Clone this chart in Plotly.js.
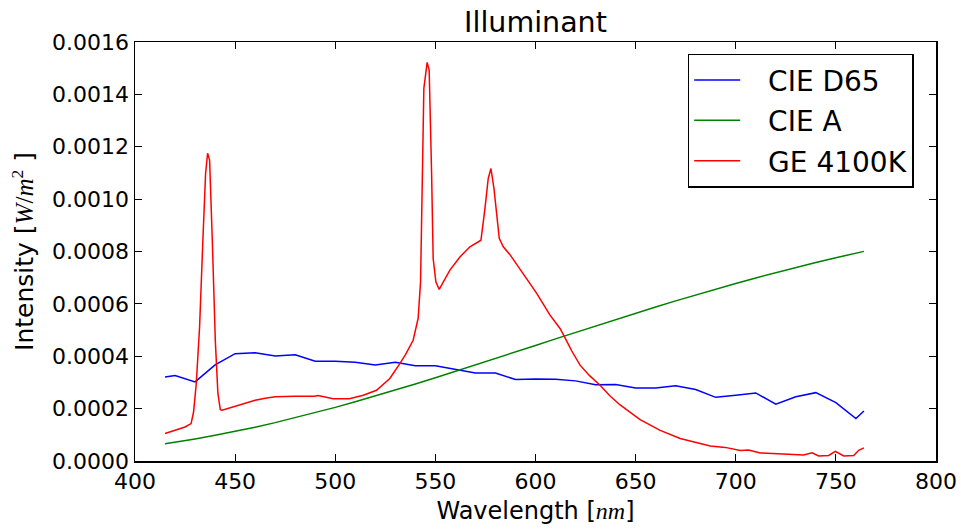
<!DOCTYPE html>
<html>
<head>
<meta charset="utf-8">
<script src="https://cdn.plot.ly/plotly-3.0.1.min.js"></script>
<style>html,body{margin:0;padding:0;background:#fff;}#chart{width:961px;height:529px;}</style>
</head>
<body>
<div id="chart"></div>
<script>
// Wavelength grid for the CIE illuminants (nm)
const cieWavelength = [415,420,430,440,450,460,470,480,490,500,510,520,530,540,550,560,570,580,590,600,610,620,630,640,650,660,670,680,690,700,710,720,730,740,750,760,764];
// CIE D65 intensity (W/m^2)
const d65 = [0.000321,0.000326,0.000302,0.000367,0.000410,0.000413,0.000401,0.000406,0.000381,0.000381,0.000377,0.000367,0.000377,0.000364,0.000364,0.000349,0.000336,0.000336,0.000311,0.000313,0.000312,0.000306,0.000291,0.000292,0.000279,0.000279,0.000287,0.000273,0.000243,0.000251,0.000260,0.000217,0.000245,0.000261,0.000223,0.000162,0.000191];
// CIE A intensity (W/m^2)
const cieA = [0.0000660,0.0000718,0.0000844,0.0000982,0.0001132,0.0001293,0.0001466,0.0001650,0.0001844,0.0002047,0.0002259,0.0002480,0.0002706,0.0002939,0.0003178,0.0003420,0.0003666,0.0003914,0.0004163,0.0004413,0.0004663,0.0004912,0.0005159,0.0005403,0.0005644,0.0005881,0.0006114,0.0006342,0.0006564,0.0006780,0.0006991,0.0007194,0.0007391,0.0007581,0.0007763,0.0007938,0.0008005];
// GE 4100K wavelength (nm) and intensity (W/m^2)
const geWavelength = [415,420,425,428,429.25,430.6,432.25,433.9,435.25,436.25,437.25,438.6,440.1,441.4,442.6,443.5,446,450,455,460,465,470,480,489.75,491.4,495,499,507,514,520.6,527.25,532.25,535,538.9,541.4,542.6,543.25,544.25,545.9,546.9,548.1,548.9,550.25,551.9,557.25,562.25,567.25,572.75,574.75,576.4,577.75,579.25,581.9,583.9,587.25,593.9,600.6,607.25,612.25,615.6,618.1,622.25,627,632.25,637,642.25,652.25,662.25,672.25,687.25,694.75,702.25,706.4,712.25,722.25,733.9,738.1,741.4,746.4,749.75,753.9,758.9,761.4,764];
const ge4100 = [0.000105,0.000118,0.000130,0.000143,0.000187,0.000296,0.000512,0.000843,0.001098,0.001175,0.001149,0.000843,0.000461,0.000258,0.000196,0.000194,0.000200,0.000209,0.000221,0.000232,0.000240,0.000245,0.000247,0.000247,0.000250,0.000243,0.000238,0.000238,0.000251,0.000270,0.000315,0.000372,0.000405,0.000461,0.000545,0.000684,0.001041,0.001423,0.001522,0.001493,0.001104,0.000773,0.000684,0.000655,0.000729,0.000779,0.000818,0.000843,0.000964,0.001079,0.001117,0.001041,0.000850,0.000818,0.000788,0.000716,0.000640,0.000557,0.000506,0.000458,0.000420,0.000366,0.000326,0.000289,0.000250,0.000214,0.000158,0.000117,0.000086,0.000057,0.000052,0.000040,0.000042,0.000031,0.000026,0.000023,0.000031,0.000019,0.000021,0.000037,0.000019,0.000021,0.000041,0.000050];
const seriesNames = ['CIE D65','CIE A','GE 4100K'];
const xTicks = [400,450,500,550,600,650,700,750,800];
const yTicks = [0,0.0002,0.0004,0.0006,0.0008,0.0010,0.0012,0.0014,0.0016];

const FONT = 'DejaVu Sans, Verdana, sans-serif';
const PAD = '\u2002\u00a0';
const colors = ['#0000ff', '#008000', '#ff0000'];
const traces = [
  {x: cieWavelength, y: d65, name: PAD + seriesNames[0], mode: 'lines', line: {color: colors[0], width: 1.5}, legendgroup: 'a'},
  {x: cieWavelength, y: cieA, name: PAD + seriesNames[1], mode: 'lines', line: {color: colors[1], width: 1.5}, legendgroup: 'b'},
  {x: geWavelength, y: ge4100, name: PAD + seriesNames[2], mode: 'lines', line: {color: colors[2], width: 1.5}, legendgroup: 'c'}
];
const axisCommon = {
  showgrid: false, zeroline: false, showline: true, linecolor: '#000', linewidth: 1.5,
  mirror: 'allticks', ticks: 'inside', ticklen: 7, tickwidth: 1, tickcolor: '#000',
  tickfont: {family: FONT, size: 22, color: '#000'}, automargin: false
};
const layout = {
  width: 961, height: 529,
  margin: {l: 135, r: 25, t: 42, b: 68, pad: 0},
  paper_bgcolor: '#fff', plot_bgcolor: '#fff',
  font: {family: FONT, color: '#000'},
  title: {text: 'Illuminant', font: {family: FONT, size: 28.5, color: '#000'}, x: 0.5, xref: 'paper', xanchor: 'center', y: 0.958, yref: 'container', yanchor: 'middle'},
  xaxis: Object.assign({}, axisCommon, {
    range: [400, 800], tickvals: xTicks, ticktext: xTicks.map(String),
    title: {text: 'Wavelength [<span style="font-family:Liberation Serif"><i>nm</i></span>]', font: {family: FONT, size: 24, color: '#000'}, standoff: 9}
  }),
  yaxis: Object.assign({}, axisCommon, {
    range: [0, 0.0016], tickvals: yTicks, ticktext: yTicks.map(v => v.toFixed(4)),
    title: {text: 'Intensity [<span style="font-family:Liberation Serif"><i>W</i>/<i>m</i><sup>2</sup></span> ]', font: {family: FONT, size: 25, color: '#000'}, standoff: 11}
  }),
  showlegend: true,
  legend: {
    x: 0.690, xanchor: 'left', y: 0.972, yanchor: 'top',
    bgcolor: '#fff', bordercolor: '#000', borderwidth: 1.5,
    font: {family: FONT, size: 28, color: '#000'},
    traceorder: 'grouped', tracegroupgap: 1, itemwidth: 46
  }
};
Plotly.newPlot('chart', traces, layout, {displayModeBar: false, staticPlot: true});
</script>
</body>
</html>
